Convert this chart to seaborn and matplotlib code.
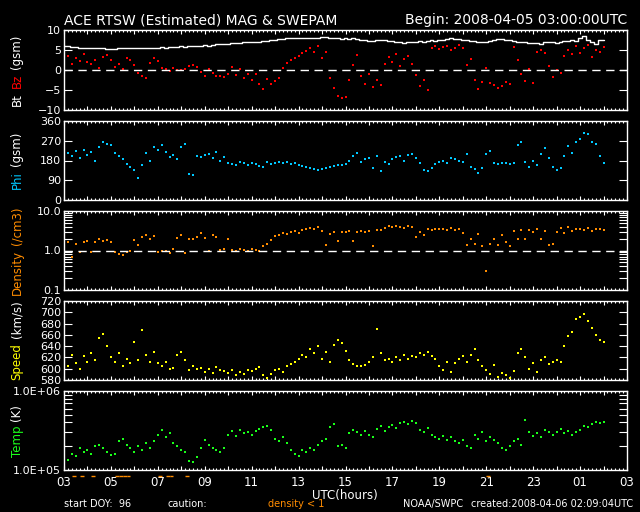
import numpy as np
import matplotlib
matplotlib.use('Agg')
import matplotlib.pyplot as plt
import seaborn as sns
from matplotlib.ticker import FixedLocator, FixedFormatter, MultipleLocator, NullFormatter, LogLocator

# 10-minute samples starting 2008-04-05 03:00 UTC, one row per hour
bt = [6.1, 6.0, 5.8, 5.7, 5.6, 5.5,
      5.5, 5.4, 5.4, 5.5, 5.6, 5.3,
      5.2, 5.3, 5.4, 5.5, 5.6, 5.4,
      5.5, 5.6, 5.5, 5.4, 5.5, 5.6,
      5.6, 5.7, 5.6, 5.8, 5.7, 5.8,
      5.9, 5.8, 6.0, 5.9, 6.1, 6.0,
      6.2, 6.1, 6.3, 6.4, 6.5, 6.6,
      6.6, 6.7, 6.8, 6.7, 6.9, 7.0,
      7.0, 7.1, 7.1, 7.2, 7.3, 7.4,
      7.6, 7.8, 7.8, 7.9, 8.0, 8.0,
      8.1, 8.1, 8.0, 7.9, 8.0, 8.1,
      8.2, 8.2, 8.1, 8.0, 7.9, 7.8,
      7.9, 7.8, 7.9, 7.7, 7.6, 7.4,
      7.3, 7.2, 7.4, 7.5, 7.6, 7.3,
      7.2, 7.0, 6.9, 6.8, 6.9, 7.1,
      7.0, 7.2, 7.1, 7.3, 7.4, 7.3,
      7.5, 7.6, 7.8, 7.9, 7.8, 7.7,
      7.6, 7.4, 7.3, 7.2, 7.1, 7.0,
      7.1, 7.3, 7.6, 7.8, 7.8, 7.6,
      7.4, 7.2, 7.0, 7.1, 6.9, 6.8,
      6.7, 6.8, 6.6, 6.9, 7.0, 6.9,
      6.8, 7.0, 7.3, 7.2, 7.5, 7.3,
      8.0, 8.5, 7.6, 7.0, 6.6, 7.4,
      7.6]

bz = [2.7, 3.5, 1.5, 3.0, 2.2, 4.0,
      2.0, 1.6, 2.5, 0.4, 3.2, 3.8,
      2.4, 0.8, 1.6, 0.2, 3.0, 2.4,
      1.2, -0.8, -1.6, -2.0, 1.8, 3.0,
      2.2, 0.5, 0.2, -0.3, 0.4, 0.1,
      0.0, 0.2, 1.0, 1.3, 0.8, -0.5,
      -1.5, 0.3, -0.8, -1.6, -1.4, -1.8,
      -0.9, 0.8, -1.2, 0.2, -2.0, -1.0,
      -2.5, -1.0, -3.4, -4.8, -2.2, -3.6,
      -2.8, -2.0, 0.5, 1.8, 2.5, 3.0,
      3.6, 4.2, 4.8, 5.5, 4.5, 6.0,
      3.0, 4.5, -2.0, -4.5, -6.6, -7.0,
      -6.8, -2.5, 1.2, 3.8, -1.5, -3.5,
      -1.0, -4.2, -2.6, -3.8, 1.5, 3.2,
      2.0, 4.0, 1.0, 2.8, 3.5, 1.5,
      -1.2, -4.0, -2.6, -5.0, 5.4, 6.0,
      5.2, 5.8, 6.1, 5.0, 5.6, 6.2,
      5.5, 1.2, 2.8, -2.4, -4.8, -3.0,
      0.5, -3.2, -3.8, -4.6, -3.9, -3.0,
      -3.6, 5.8, 2.5, -1.0, -2.8, 0.2,
      -3.2, 4.5, 5.0, 4.2, 1.0, -1.8,
      0.0, -0.8, 3.5, 5.0, 4.0, 6.0,
      4.2, 5.5, 6.2, 3.2, 5.0, 4.5,
      5.8]

phi = [240, 215, 200, 225, 190, 230,
       205, 220, 180, 240, 265, 255,
       250, 215, 200, 185, 165, 150,
       135, 100, 160, 215, 180, 240,
       230, 250, 220, 195, 205, 185,
       240, 255, 120, 115, 200, 195,
       205, 210, 190, 220, 180, 195,
       170, 165, 160, 175, 170, 160,
       170, 165, 155, 150, 175, 165,
       170, 175, 168, 172, 165, 168,
       160, 155, 150, 148, 140, 135,
       140, 145, 150, 155, 160, 158,
       165, 180, 200, 215, 175, 185,
       190, 145, 200, 130, 175, 165,
       185, 195, 200, 180, 205, 210,
       190, 170, 135, 130, 145, 165,
       175, 180, 170, 190, 185, 180,
       175, 210, 150, 140, 125, 145,
       210, 225, 170, 165, 168, 170,
       165, 168, 250, 265, 175, 150,
       180, 160, 210, 235, 190, 150,
       135, 145, 200, 245, 215, 265,
       280, 305, 300, 265, 255, 200,
       170]

density = [1.8, 1.6, 0.7, 1.5, 0.9, 1.6,
           1.7, 0.9, 1.6, 1.9, 1.7, 1.8,
           1.6, 0.9, 0.8, 0.75, 0.9, 1.0,
           1.8, 1.4, 2.2, 2.4, 2.0, 2.3,
           0.9, 1.0, 0.95, 0.85, 1.1, 2.1,
           2.4, 0.85, 2.0, 1.9, 2.2, 2.7,
           2.1, 1.0, 2.5, 2.2, 1.05, 1.1,
           2.0, 1.05, 1.0, 1.1, 1.05, 1.0,
           1.1, 1.05, 1.0, 1.3, 1.5, 1.8,
           2.3, 2.5, 2.7, 2.6, 3.0, 3.2,
           2.8, 3.3, 3.5, 3.8, 3.5, 4.0,
           3.2, 1.4, 2.6, 3.0, 1.7, 2.9,
           3.0, 3.1, 1.7, 2.9, 3.2, 3.0,
           3.2, 1.3, 3.4, 3.3, 3.8, 4.1,
           4.0, 4.2, 3.9, 3.7, 4.2, 3.9,
           2.2, 3.0, 2.5, 3.6, 3.4, 3.5,
           3.6, 3.5, 3.3, 3.7, 3.4, 3.5,
           2.8, 1.4, 2.0, 1.5, 2.6, 1.3,
           0.3, 1.5, 2.0, 1.4, 2.4, 1.6,
           1.3, 3.1, 2.0, 3.3, 1.9, 3.4,
           3.0, 3.5, 2.0, 3.2, 1.4, 1.5,
           3.0, 3.8, 2.8, 4.0, 3.2, 3.6,
           3.5, 3.4, 3.7, 3.2, 3.5, 3.6,
           3.4]

speed = [618, 605, 625, 610, 600, 622,
         612, 628, 615, 655, 662, 640,
         620, 612, 628, 605, 618, 610,
         648, 615, 668, 625, 612, 630,
         610, 605, 612, 600, 601, 625,
         630, 615, 598, 605, 600, 602,
         595, 600, 593, 603, 598, 596,
         592, 597, 588, 595, 590, 598,
         596, 600, 603, 588, 584, 590,
         597, 600, 595, 605, 608, 612,
         618, 625, 620, 635, 628, 640,
         618, 630, 612, 642, 650, 645,
         632, 615, 608, 605, 604, 606,
         612, 620, 670, 628, 615, 618,
         612, 620, 615, 625, 618, 622,
         620, 628, 625, 630, 622, 618,
         605, 598, 612, 595, 610, 618,
         622, 612, 625, 635, 615, 605,
         598, 590, 606, 585, 592, 588,
         584, 596, 628, 635, 620, 600,
         610, 594, 615, 620, 608, 612,
         615, 612, 640, 658, 665, 688,
         692, 697, 685, 672, 660, 650,
         648]

# proton temperature in units of 1e5 K
temp = [1.45, 1.35, 1.6, 1.5, 1.9, 1.7,
        1.8, 1.6, 2.0, 2.1, 1.9, 1.7,
        1.55, 1.6, 2.3, 2.5, 2.1, 1.9,
        1.7, 2.0, 1.8, 2.2, 1.9, 2.3,
        2.8, 3.2, 2.6, 2.9, 2.2, 2.0,
        1.8, 1.7, 1.3, 1.25, 1.45, 1.9,
        2.4, 2.1, 1.9, 1.8, 1.7, 1.9,
        2.8, 3.1, 2.7, 3.2, 2.9, 3.0,
        2.8, 3.1, 3.3, 3.5, 3.6, 3.2,
        2.5, 2.3, 2.6, 2.2, 1.8, 1.6,
        1.5, 1.8, 1.7, 1.9, 1.8, 2.1,
        2.3, 2.5, 3.5, 3.8, 2.0, 2.1,
        1.9, 2.9, 3.2, 3.0, 2.8, 3.1,
        2.8, 2.6, 3.3, 3.6, 3.1, 3.5,
        3.7, 3.4, 3.9, 4.1, 3.8, 4.2,
        3.9, 3.2, 3.0, 3.4, 2.8, 2.6,
        2.5, 2.7, 2.4, 2.6, 2.3, 2.2,
        2.4, 2.0, 1.9, 2.8, 2.5, 3.0,
        2.3, 2.6, 2.4, 2.2, 1.9, 1.8,
        2.0, 2.3, 2.5, 2.1, 4.3, 3.0,
        2.7, 2.9, 2.6, 3.2, 3.0, 2.8,
        3.0, 3.3, 2.9, 3.1, 2.8, 3.0,
        3.2, 3.6, 3.5, 3.8, 4.0, 3.9,
        4.0]

hour_labels = ['03', '05', '07', '09', '11', '13', '15', '17', '19', '21', '23', '01', '03']

hours = np.arange(len(bt)) / 6.0
temp_k = np.array(temp) * 1e5

RED = '#ff0000'
CYAN = '#00c8ff'
ORANGE = '#ff8c00'
YELLOW = '#ffff00'
GREEN = '#1aff1a'

sns.set_theme(style='ticks')
plt.rcParams['font.family'] = ['DejaVu Sans']
plt.rcParams.update({
    'figure.facecolor': 'black',
    'axes.facecolor': 'black',
    'axes.edgecolor': 'white',
    'axes.linewidth': 1.0,
    'axes.grid': False,
    'text.color': 'white',
    'xtick.color': 'white',
    'ytick.color': 'white',
    'xtick.direction': 'in',
    'ytick.direction': 'in',
    'xtick.top': True,
    'xtick.bottom': True,
    'ytick.left': True,
    'ytick.right': True,
    'xtick.major.size': 3,
    'xtick.minor.size': 1.5,
    'xtick.major.width': 0.8,
    'xtick.minor.width': 0.8,
    'ytick.major.size': 5.8,
    'ytick.minor.size': 5.8,
    'ytick.major.width': 0.8,
    'ytick.minor.width': 0.8,
    'ytick.major.pad': 2,
    'ytick.labelsize': 8,
    'xtick.minor.visible': True,
})

fig = plt.figure(figsize=(6.4, 5.12), dpi=100)
W, H = 640.0, 512.0


def panel(top, bottom):
    ax = fig.add_axes([64 / W, 1 - bottom / H, 563 / W, (bottom - top) / H])
    ax.set_facecolor('black')
    for sp in ax.spines.values():
        sp.set_color('white')
        sp.set_linewidth(1.0)
    return ax


ax1 = panel(30, 110)
ax2 = panel(121, 200)
ax3 = panel(211, 290)
ax4 = panel(301, 380)
ax5 = panel(391, 470)

MS = 2.2

# Bt / Bz
sns.lineplot(x=hours, y=bt, ax=ax1, color='white', lw=1, drawstyle='steps-mid', errorbar=None)
sns.scatterplot(x=hours, y=bz, ax=ax1, color=RED, marker='s', s=MS, linewidth=0)
ax1.axhline(0, color='white', lw=1, dashes=(6, 4))
ax1.set_ylim(-10, 10)
ax1.yaxis.set_major_locator(FixedLocator([-10, -5, 0, 5, 10]))

# Phi
sns.scatterplot(x=hours, y=phi, ax=ax2, color=CYAN, marker='s', s=MS, linewidth=0)
ax2.set_ylim(0, 360)
ax2.yaxis.set_major_locator(FixedLocator([0, 90, 180, 270, 360]))

# Density
sns.scatterplot(x=hours, y=density, ax=ax3, color=ORANGE, marker='s', s=MS, linewidth=0)
ax3.set_yscale('log')
ax3.set_ylim(0.1, 10)
ax3.axhline(1.0, color='white', lw=1, dashes=(6, 4))
ax3.yaxis.set_major_locator(FixedLocator([0.1, 1.0, 10.0]))
ax3.yaxis.set_major_formatter(FixedFormatter(['0.1', '1.0', '10.0']))
ax3.yaxis.set_minor_locator(LogLocator(base=10, subs=np.arange(2, 10)))
ax3.yaxis.set_minor_formatter(NullFormatter())

# Speed
sns.scatterplot(x=hours, y=speed, ax=ax4, color=YELLOW, marker='s', s=MS, linewidth=0)
ax4.set_ylim(580, 720)
ax4.yaxis.set_major_locator(FixedLocator(list(range(580, 721, 20))))

# Temp
sns.scatterplot(x=hours, y=temp_k, ax=ax5, color=GREEN, marker='s', s=MS, linewidth=0)
ax5.set_yscale('log')
ax5.set_ylim(1e5, 1e6)
ax5.yaxis.set_major_locator(FixedLocator([1e5, 1e6]))
ax5.yaxis.set_major_formatter(FixedFormatter(['1.0E+05', '1.0E+06']))
ax5.yaxis.set_minor_locator(LogLocator(base=10, subs=np.arange(2, 10)))
ax5.yaxis.set_minor_formatter(NullFormatter())

for ax in [ax1, ax2, ax3, ax4, ax5]:
    ax.set_xlabel('')
    ax.set_ylabel('')
    ax.set_xlim(0, 24)
    ax.xaxis.set_major_locator(MultipleLocator(1))
    ax.xaxis.set_minor_locator(MultipleLocator(1 / 6))
    ax.tick_params(axis='x', which='both', direction='in', top=True, bottom=True, labelbottom=False)
    ax.tick_params(axis='y', which='both', direction='in', left=True, right=True)
    ax.tick_params(axis='x', which='major', length=3, width=0.8, color='white')
    ax.tick_params(axis='x', which='minor', length=1.5, width=0.8, color='white')
    ax.tick_params(axis='y', which='both', length=5.8, width=0.8, color='white', labelsize=8, pad=2)
    if ax.get_yscale() == 'linear':
        ax.yaxis.set_minor_locator(FixedLocator([]))

ax5.xaxis.set_major_locator(MultipleLocator(1))
ax5.xaxis.set_major_formatter(matplotlib.ticker.FuncFormatter(
    lambda v, p: hour_labels[int(round(v)) // 2] if int(round(v)) % 2 == 0 else ''))
ax5.tick_params(axis='x', which='major', labelbottom=True, labelsize=8.5, pad=4)

# density < 1 caution marks below the bottom panel
low = np.array(density) < 1
ax5.hlines([-0.075] * int(low.sum()), hours[low], hours[low] + 1 / 6, colors=ORANGE, lw=1,
           transform=ax5.get_xaxis_transform(), clip_on=False)

# titles and footer
fig.text(64 / W, 1 - 20 / H, 'ACE RTSW (Estimated) MAG & SWEPAM', fontsize=10, va='center', ha='left')
fig.text(627 / W, 1 - 20 / H, 'Begin: 2008-04-05 03:00:00UTC', fontsize=10, va='center', ha='right')
fig.text(345 / W, 1 - 495 / H, 'UTC(hours)', fontsize=8.5, va='center', ha='center')
fig.text(64 / W, 1 - 504 / H, 'start DOY:  96', fontsize=7, va='center', ha='left')
fig.text(167 / W, 1 - 504 / H, 'caution:', fontsize=7, va='center', ha='left')
fig.text(268 / W, 1 - 504 / H, 'density < 1', fontsize=7, va='center', ha='left', color=ORANGE)
fig.text(403 / W, 1 - 504 / H, 'NOAA/SWPC', fontsize=7, va='center', ha='left')
fig.text(471 / W, 1 - 504 / H, 'created:2008-04-06 02:09:04UTC', fontsize=7, va='center', ha='left')

# multi-coloured vertical axis labels
renderer = fig.canvas.get_renderer()


def vlabel(ax, parts, x_px=17, gap=5):
    items = []
    for s, c in parts:
        t = fig.text(0, 0, s, rotation=90, color=c, fontsize=8.5, ha='center', va='bottom')
        items.append((t, t.get_window_extent(renderer).height))
    total = sum(L for _, L in items) + gap * (len(items) - 1)
    pos = ax.get_position()
    y = (pos.y0 + pos.height / 2) * H - total / 2
    for t, L in items:
        t.set_position((x_px / W, y / H))
        y += L + gap


vlabel(ax1, [('Bt', 'white'), ('Bz', RED), ('(gsm)', 'white')])
vlabel(ax2, [('Phi', CYAN), ('(gsm)', 'white')])
vlabel(ax3, [('Density', ORANGE), ('(/cm3)', ORANGE)])
vlabel(ax4, [('Speed', YELLOW), ('(km/s)', 'white')])
vlabel(ax5, [('Temp', GREEN), ('(K)', 'white')])

fig.savefig('out.png', dpi=100, facecolor='black')
